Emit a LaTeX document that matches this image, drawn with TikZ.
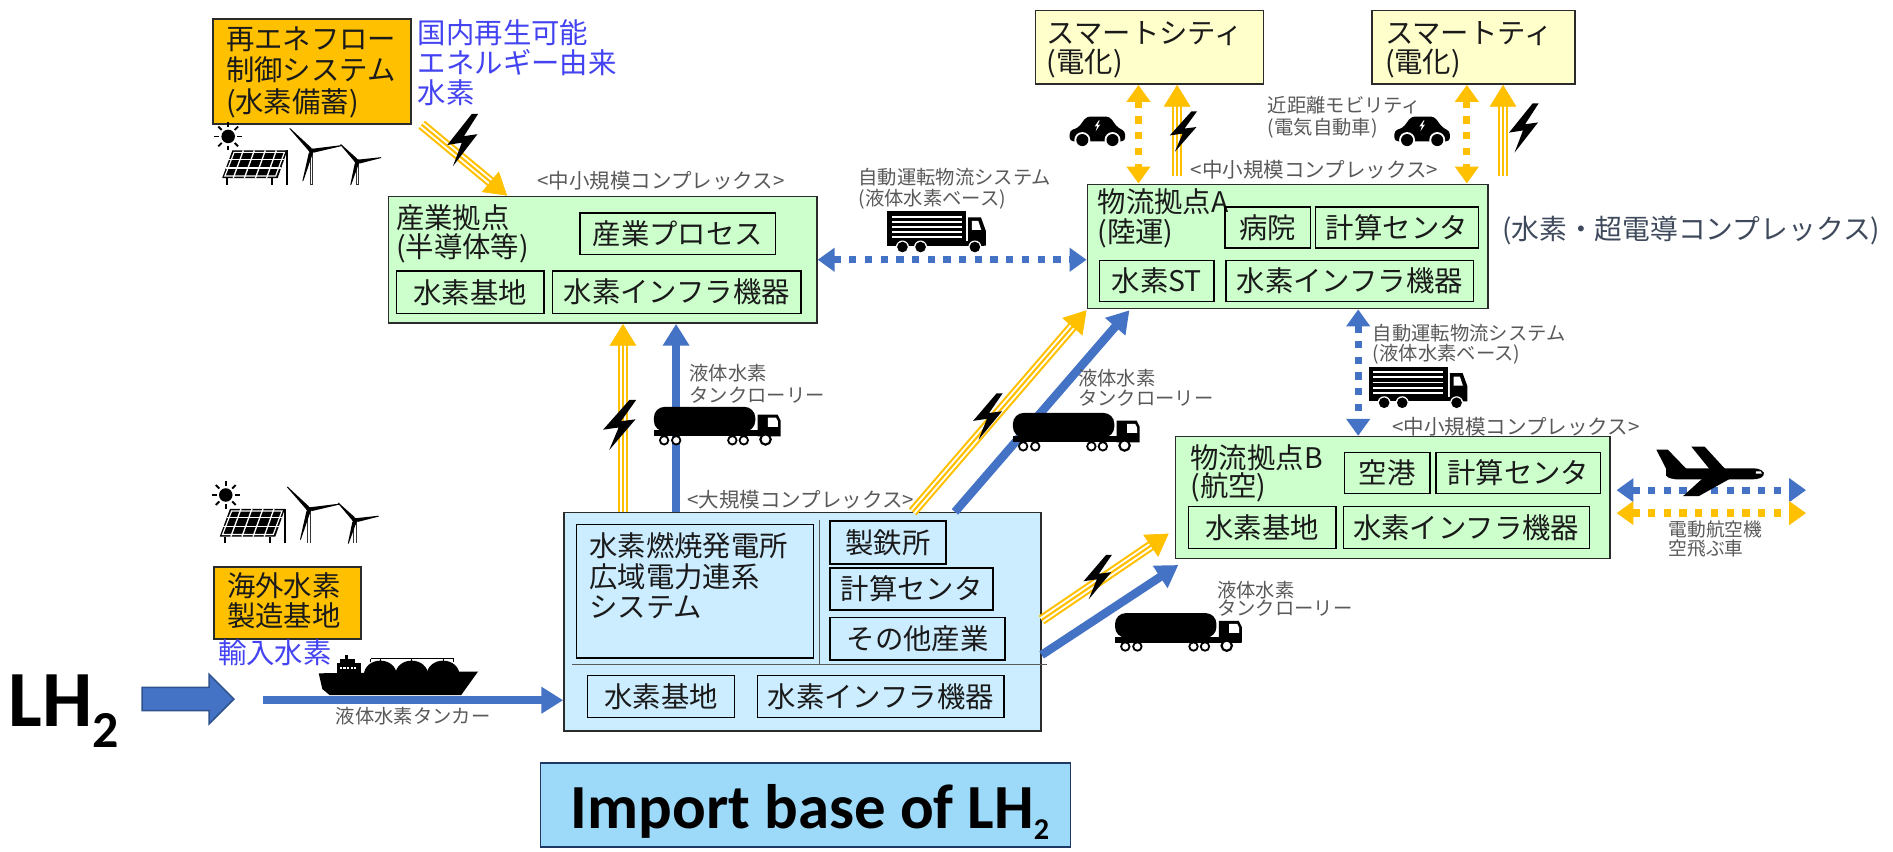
\documentclass[tikz,border=0pt]{standalone}
\usepackage{fontspec}
\setmainfont{Noto Sans CJK JP}
\newfontfamily\calib{Carlito}
\usetikzlibrary{arrows.meta,calc,shapes.arrows}

\definecolor{gfill}{HTML}{CCFFCC}
\definecolor{bfill}{HTML}{CCECFF}
\definecolor{yfill}{HTML}{FFFFCC}
\definecolor{ofill}{HTML}{FFC000}
\definecolor{ablue}{HTML}{4472C4}
\definecolor{ayel}{HTML}{FFC000}
\definecolor{arrline}{HTML}{2F528F}
\definecolor{txtblue}{HTML}{4343F2}
\definecolor{txtgray}{HTML}{595959}
\definecolor{slate}{HTML}{3E4A5C}
\definecolor{ibfill}{HTML}{9DD9F8}
\definecolor{ibline}{HTML}{203864}
\definecolor{edge}{HTML}{2B2B2B}
\definecolor{boxtxt}{HTML}{1A1A1A}

% striped (power) arrow: yellow-white-yellow-white-yellow with a solid head
\newcommand\triarrow[2]{%
  \draw[ayel, line width=8.5pt, shorten >=14pt] (#1) -- (#2);
  \draw[white, line width=5pt, shorten >=14pt] (#1) -- (#2);
  \draw[ayel, line width=1.8pt, shorten >=14pt] (#1) -- (#2);
  \draw[ayel, line width=0.5pt, -{Triangle[length=18pt,width=22pt]}] ($(#2)!18pt!(#1)$) -- (#2);
}

\tikzset{
  boxbase/.style={draw=edge, line width=1.3pt, anchor=north west, inner sep=0pt},
  gbox/.style={boxbase, fill=gfill},
  bbox/.style={boxbase, fill=bfill},
  ybox/.style={boxbase, fill=yfill},
  obox/.style={boxbase, fill=ofill},
  ibox/.style={draw=black, line width=1.1pt, anchor=north west, inner sep=0pt, text=boxtxt,
    font=\fontsize{23.5}{25}\selectfont},
  bigtxt/.style={anchor=base west, inner sep=0pt, text=boxtxt, font=\fontsize{23.5}{25}\selectfont},
  smalltxt/.style={anchor=base west, inner sep=0pt, text=txtgray, font=\fontsize{16}{18}\selectfont},
  cxtxt/.style={smalltxt, font=\fontsize{17}{19}\selectfont},
  sepline/.style={draw=black!65, line width=0.8pt},
  bluearrow/.style={ablue, line width=7pt, -{Triangle[length=18pt,width=21pt]}},
  dotblue/.style={ablue, line width=6pt, dash pattern=on 6pt off 7pt,
    {Triangle[length=14pt,width=19pt]}-{Triangle[length=14pt,width=19pt]}},
  dotyel/.style={ayel, line width=6pt, dash pattern=on 6pt off 7pt,
    {Triangle[length=14pt,width=19pt]}-{Triangle[length=14pt,width=19pt]}},
  % ---- icons, drawn with y pointing up, origin at the lower left ----
  pics/bolt/.style={code={%
    \begin{scope}[yscale=-1]
    \fill[#1] (3,8) -- (-4.8,-1.5) -- (-0.2,-0.8) -- (-3,-8) -- (4.8,1.8) -- (0.5,1.2) -- (5,8) -- cycle;
    \end{scope}}},
  pics/bolt/.default=black,
  pics/car/.style={code={%
    \begin{scope}[yscale=-1]
    \fill[rounded corners=3pt] (0,4) -- (46,4) -- (46,12.5) -- (40,15) -- (33,24.5) -- (14,24.5) -- (7,15) -- (0,13) -- cycle;
    \foreach \wx in {10.5,35.5} {\fill[white] (\wx,5) circle (6.6); \fill (\wx,5) circle (5);}
    \fill[white] (24.25,21.4) -- (20.75,16.3) -- (22.8,16.6) -- (21.6,12.4) -- (25.25,17.8) -- (23.2,17.5) -- (24.9,21.4) -- cycle;
    \end{scope}}},
  pics/boxtruck/.style={code={%
    \begin{scope}[yscale=-1]
    \fill (0,8) rectangle (65,34);
    \foreach \sy in {12,16.2,20.4,24.6,28.8} \fill[white] (3.5,\sy) rectangle (61.5,\sy+1.6);
    \fill (0,5.5) rectangle (80,9);
    \fill (67,5.5) -- (81.5,5.5) -- (81.5,18) -- (77.5,29) -- (67,29) -- cycle;
    \fill[white] (70,18.5) -- (77.8,18.5) -- (75.3,26) -- (70,26) -- cycle;
    \foreach \wx in {12.5,27.5,72.5} {\fill[white] (\wx,4.4) circle (5.4); \fill (\wx,4.4) circle (4.4);}
    \end{scope}}},
  pics/tanker/.style={code={%
    \begin{scope}[yscale=-1]
    \fill[rounded corners=9pt] (0,11.5) rectangle (84,32);
    \fill (0,7.5) rectangle (104,12.5);
    \fill (86,7.5) -- (105,7.5) -- (105,20.5) -- (102.5,25.5) -- (86,25.5) -- cycle;
    \fill[white] (94.5,15.5) -- (102.8,15.5) -- (102.8,20) -- (101.2,23) -- (94.5,23) -- cycle;
    \foreach \wx in {8.5,18.5,65,74.5} \filldraw[fill=white, draw=black, line width=1.5pt] (\wx,4.3) circle (3.5);
    \filldraw[fill=white, draw=black, line width=1.8pt] (92.5,5) circle (4.3);
    \end{scope}}},
  pics/ship/.style={code={%
    \begin{scope}[yscale=-1]
    \foreach \dx in {52,78,104} \fill (\dx,17) ellipse (13.5 and 11.5);
    \fill (1,18) -- (133,19.5) -- (119,0) -- (10,0) -- (4,5) -- cycle;
    \draw[line width=0.8pt] (44,30) -- (113,30);
    \foreach \dx in {44,52,78,104,113} \draw[line width=0.8pt] (\dx,27) -- (\dx,30);
    \fill (16,18) rectangle (36,26.5);
    \fill (19,26.5) rectangle (31,30);
    \fill (23,30) rectangle (25,33);
    \foreach \dx in {18.5,21.5,...,32.5} \fill[white] (\dx,21.5) rectangle +(1.7,1.9);
    \end{scope}}},
  pics/plane/.style={code={%
    \begin{scope}[yscale=-1]
    \fill (0,38.5) -- (9.5,38.5) -- (25,22.5) -- (11,17) -- cycle;
    \fill (44,22.5) -- (57,22.5) -- (40,41) -- (29,41) -- cycle;
    \fill (38,14.5) -- (61,14.5) -- (35,0) -- (22,0) -- cycle;
    \fill (8,17) .. controls (10,15) .. (16,14) -- (80,14) .. controls (89,14) and (91.5,19.5) .. (87,21.5) .. controls (84,23) .. (78,23) -- (22,23) -- (8,27) -- cycle;
    \fill[white] (82.5,18.6) -- (87.4,18.6) -- (86.5,20.6) -- (82.5,20.6) -- cycle;
    \end{scope}}},
  pics/renew/.style={code={%
    \begin{scope}[yscale=-1]
    \fill (4,40) circle (5.6);
    \foreach \a in {0,45,...,315} \draw[line width=1.5pt] (4,40) ++(\a:7.6) -- ++(\a:4);
    \fill (-1,5.5) -- (45,5.5) -- (53,28.5) -- (7.5,28.5) -- cycle;
    \foreach \t in {0.36,0.68} \draw[white, line width=1.1pt] ($(-1,5.5)!\t!(7.5,28.5)$) -- ($(45,5.5)!\t!(53,28.5)$);
    \foreach \s in {0.2,0.4,0.6,0.8} \draw[white, line width=1.1pt] ($(-1,5.5)!\s!(45,5.5)$) -- ($(7.5,28.5)!\s!(53,28.5)$);
    \draw[white, line width=1pt] (1.3,7.2) -- (43.3,7.2) -- (50.6,26.8) -- (8.9,26.8) -- cycle;
    \draw[line width=1.7pt] (53,28.5) -- (53,0);
    \draw[line width=1.7pt] (3,5.5) -- (3,0);
    \draw[line width=1.7pt] (40.5,5.5) -- (40.5,0);
    \foreach \hx/\hy/\bl in {73/28/26,111/19/20} {
      \draw[line width=3pt, black!80] (\hx,\hy) -- (\hx,0);
      \draw[white, line width=1pt] (\hx,\hy-3.5) -- (\hx,0.6);
      \foreach \a in {106,-10,226}
        \fill[rotate around={\a:(\hx,\hy)}] (\hx,\hy+1.7) -- (\hx+\bl,\hy+0.35) -- (\hx+\bl,\hy-0.35) -- (\hx+2,\hy-1.7) -- cycle;
      \fill (\hx,\hy) circle (2.2);
    }
    \end{scope}}},
}

\begin{document}
\begin{tikzpicture}[x=1pt,y=-1pt]
\fill[white] (0,0) rectangle (1568,705);
\useasboundingbox (0,0) rectangle (1568,705);

% ===== boxes =====
% renewable flow control
\node[obox, minimum width=164pt, minimum height=87pt] (re) at (176,15) {};
\node[bigtxt] (re1) at (187,41) {再エネフロー};
\node[bigtxt] (re2) at (187,67) {制御システム};
\node[bigtxt] (re3) at (187,93) {(水素備蓄)};
\node[bigtxt, text=txtblue] (dom1) at (346,36) {国内再生可能};
\node[bigtxt, text=txtblue] (dom2) at (346,61) {エネルギー由来};
\node[bigtxt, text=txtblue] (dom3) at (346,86) {水素};

% industrial hub
\node[gbox, minimum width=355pt, minimum height=105pt] (sangyo) at (321,162) {};
\node[cxtxt] (cxS) at (445,156) {<中小規模コンプレックス>};
\node[bigtxt] (sg1) at (328,189) {産業拠点};
\node[bigtxt] (sg2) at (328,213) {(半導体等)};
\node[ibox, minimum width=162pt, minimum height=34pt] (proc) at (480,176) {産業プロセス};
\node[ibox, minimum width=122pt, minimum height=35pt] (baseS) at (328,224) {水素基地};
\node[ibox, minimum width=206pt, minimum height=35pt] (infraS) at (457,224) {水素インフラ機器};

% smart cities
\node[ybox, minimum width=189pt, minimum height=61pt] (sc1) at (857,8) {};
\node[bigtxt] (sc1a) at (867,36) {スマートシティ};
\node[bigtxt] (sc1b) at (867,60) {(電化)};
\node[ybox, minimum width=168pt, minimum height=61pt] (sc2) at (1136,8) {};
\node[bigtxt] (sc2a) at (1147,36) {スマートティ};
\node[bigtxt] (sc2b) at (1147,60) {(電化)};

% logistics hub A
\node[gbox, minimum width=332pt, minimum height=103pt] (hubA) at (900,152) {};
\node[cxtxt] (cxA) at (986,147) {<中小規模コンプレックス>};
\node[bigtxt] (ha1) at (909,176) {物流拠点A};
\node[bigtxt] (ha2) at (909,201) {(陸運)};
\node[ibox, minimum width=71pt, minimum height=34pt] (hosp) at (1014,171) {病院};
\node[ibox, minimum width=135pt, minimum height=34pt] (calcA) at (1089,171) {計算センタ};
\node[ibox, minimum width=95pt, minimum height=34pt] (stA) at (910,215) {水素ST};
\node[ibox, minimum width=205pt, minimum height=34pt] (infraA) at (1015,215) {水素インフラ機器};
\node[bigtxt, text=slate, font=\fontsize{23}{25}\selectfont] (sc) at (1244,198) {(水素・超電導コンプレックス)};

% logistics hub B
\node[gbox, minimum width=360pt, minimum height=101pt] (hubB) at (973,361) {};
\node[cxtxt] (cxB) at (1153,359.5) {<中小規模コンプレックス>};
\node[bigtxt] (hb1) at (986,388) {物流拠点B};
\node[bigtxt] (hb2) at (986,411) {(航空)};
\node[ibox, minimum width=71pt, minimum height=34pt] (port) at (1113,374) {空港};
\node[ibox, minimum width=136pt, minimum height=34pt] (calcB) at (1189,374) {計算センタ};
\node[ibox, minimum width=122pt, minimum height=35pt] (baseB) at (984,419) {水素基地};
\node[ibox, minimum width=204pt, minimum height=35pt] (infraB) at (1112,419) {水素インフラ機器};

% large complex
\node[bbox, minimum width=395pt, minimum height=181pt] (big) at (466.5,424) {};
\node[cxtxt] (cxL) at (569,420) {<大規模コンプレックス>};
\node[ibox, minimum width=196pt, minimum height=110.5pt] (plant) at (477,434) {};
\node[bigtxt] (pl1) at (488,460.7) {水素燃焼発電所};
\node[bigtxt] (pl2) at (488,486.9) {広域電力連系};
\node[bigtxt] (pl3) at (488,511.8) {システム};
\draw[sepline] (678.4,431) -- (678.4,551);
\draw[sepline] (474,550) -- (867,550);
\node[ibox, minimum width=96pt, minimum height=35.6pt] (steel) at (687,431) {製鉄所};
\node[ibox, minimum width=135pt, minimum height=34.7pt] (calcC) at (687,470) {計算センタ};
\node[ibox, minimum width=145pt, minimum height=35pt] (other) at (687,511) {その他産業};
\node[ibox, minimum width=122pt, minimum height=35pt] (baseC) at (486,559) {水素基地};
\node[ibox, minimum width=204pt, minimum height=35pt] (infraC) at (627,559) {水素インフラ機器};

% overseas production
\node[obox, minimum width=121.6pt, minimum height=60pt] (ovs) at (176.6,468.8) {};
\node[bigtxt] (ov1) at (188,494) {海外水素};
\node[bigtxt] (ov2) at (188,519) {製造基地};
\node[bigtxt, text=txtblue] (imp) at (180.5,549.3) {輸入水素};

% LH2 and import caption
\node[anchor=base west, inner sep=0pt, font=\calib\bfseries\fontsize{66}{66}\selectfont] (lh2) at (7,602)
  {LH\raisebox{-17pt}{\fontsize{43}{43}\selectfont 2}};
\node[single arrow, fill=ablue, draw=arrline, line width=1.2pt, minimum height=76pt, minimum width=40pt,
  inner sep=9pt, single arrow head extend=11pt, single arrow tip angle=90] (lharrow) at (151,579) {};
\node[draw=ibline, line width=1.5pt, fill=ibfill, anchor=north west, minimum width=439pt,
  minimum height=70pt, inner sep=0pt] (impbox) at (447,631) {};
\node[anchor=base, inner sep=0pt, font=\calib\bfseries\fontsize{52}{52}\selectfont] (imptxt) at (671,686)
  {Import base of LH\raisebox{-9pt}{\fontsize{25}{25}\selectfont 2}};

% ===== connectors =====
\coordinate (a0) at ($(re.south east)+(8,0)$);
\coordinate (a1) at (420,0 |- sangyo.north);
\triarrow{a0}{a1}

\draw[dotblue] (sangyo.east) -- (sangyo.east -| hubA.west);

\draw[dotyel] (943,0 |- sc1.south) -- (943,0 |- hubA.north);
\coordinate (t1s) at (975,146);
\coordinate (t1e) at (975,0 |- sc1.south);
\triarrow{t1s}{t1e}
\draw[dotyel] (1215,0 |- sc2.south) -- (1215,0 |- hubA.north);
\coordinate (t2s) at (1245,146);
\coordinate (t2e) at (1245,0 |- sc2.south);
\triarrow{t2s}{t2e}

\draw[dotblue] (1125,0 |- hubA.south) -- (1125,0 |- hubB.north);

\coordinate (pl0) at (1339,406);
\coordinate (pl1) at (1496,406);
\coordinate (pl2) at (1339,425);
\coordinate (pl3) at (1496,425);
\draw[dotblue] (pl0) -- (pl1);
\draw[dotyel] (pl2) -- (pl3);

\coordinate (v1s) at (516,0 |- big.north);
\coordinate (v1e) at (516,0 |- sangyo.south);
\triarrow{v1s}{v1e}
\draw[bluearrow] (560,0 |- big.north) -- (560,0 |- sangyo.south);

\coordinate (d1s) at (756,0 |- big.north);
\coordinate (d1e) at (900,257);
\triarrow{d1s}{d1e}
\coordinate (d2e) at (935.5,257);
\draw[bluearrow] (791,0 |- big.north) -- (d2e);

\coordinate (e1s) at (big.east |- 0,513.5);
\coordinate (e1e) at (968,442);
\triarrow{e1s}{e1e}
\coordinate (e2e) at (976,468);
\draw[bluearrow] (big.east |- 0,542.5) -- (e2e);

\coordinate (tk0) at (217.5,580);
\draw[bluearrow] (tk0) -- (big.west |- tk0);

% ===== icons and small labels =====
\pic at (185,153) {renew};
\pic at (183,450) {renew};
\pic[xscale=2.6,yscale=2.7] at (383,116) {bolt};
\pic[xscale=2.8,yscale=2.6] at (513,352) {bolt};
\pic[xscale=2.5,yscale=2.4] at (818,345) {bolt};
\pic[xscale=2.4,yscale=2.3] at (909,478) {bolt};
\pic[xscale=2.3,yscale=2.1] at (980,109) {bolt};
\pic[xscale=2.5,yscale=2.55] at (1262,106) {bolt};

\pic at (735,209) {boxtruck};
\pic at (1134,338) {boxtruck};
\pic at (541.6,369) {tanker};
\pic at (839,374) {tanker};
\pic at (923.6,539.8) {tanker};
\pic at (886,121) {car};
\pic at (1155,121) {car};
\pic at (263,575.7) {ship};
\pic at (1372,411) {plane};

\node[smalltxt] (ad1) at (711,153) {自動運転物流システム};
\node[smalltxt] (ad2) at (711,170) {(液体水素ベース)};
\node[smalltxt] (ad3) at (1137,282) {自動運転物流システム};
\node[smalltxt] (ad4) at (1137,299) {(液体水素ベース)};
\node[smalltxt] (ev1) at (1050,93) {近距離モビリティ};
\node[smalltxt] (ev2) at (1050,111) {(電気自動車)};
\node[smalltxt] (lr1) at (571,315) {液体水素};
\node[smalltxt] (lr2) at (571,333) {タンクローリー};
\node[smalltxt] (lr3) at (893,319.5) {液体水素};
\node[smalltxt] (lr4) at (893,336) {タンクローリー};
\node[smalltxt] (lr5) at (1008,494.8) {液体水素};
\node[smalltxt] (lr6) at (1008,509.7) {タンクローリー};
\node[smalltxt] (tanker) at (278,599) {液体水素タンカー};
\node[smalltxt, font=\fontsize{15.5}{17}\selectfont] (air1) at (1382,444.5) {電動航空機};
\node[smalltxt, font=\fontsize{15.5}{17}\selectfont] (air2) at (1382,460) {空飛ぶ車};
\end{tikzpicture}
\end{document}
